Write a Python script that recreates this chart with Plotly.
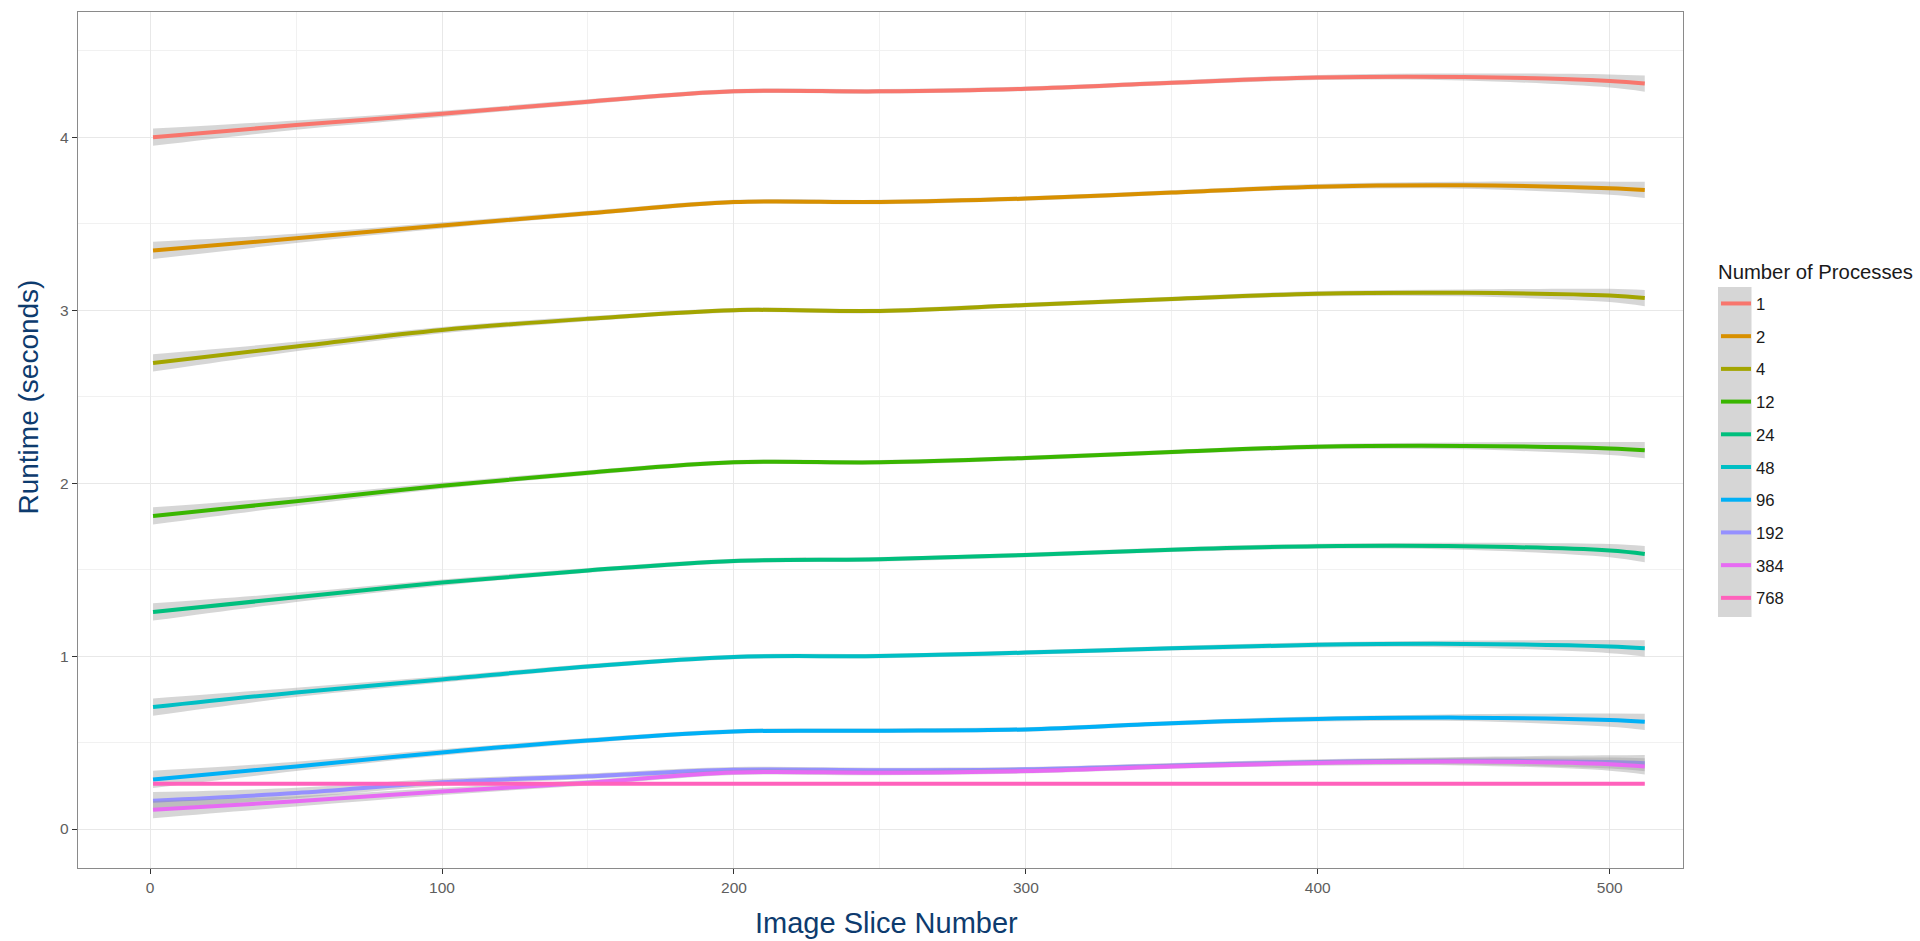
import plotly.graph_objects as go

# ---------------- data ----------------
slice_numbers = [1, 50, 100, 150, 200, 250, 300, 350, 400, 450, 500, 512]
process_counts = ["1", "2", "4", "12", "24", "48", "96", "192", "384", "768"]

runtime_p1 = [4.000, 4.070, 4.135, 4.205, 4.265, 4.265, 4.280, 4.315, 4.345, 4.348, 4.325, 4.310]
runtime_p2 = [3.345, 3.415, 3.490, 3.560, 3.625, 3.625, 3.645, 3.680, 3.714, 3.722, 3.705, 3.695]
runtime_p4 = [2.695, 2.790, 2.885, 2.950, 3.000, 2.995, 3.030, 3.065, 3.095, 3.100, 3.085, 3.070]
runtime_p12 = [1.810, 1.895, 1.985, 2.060, 2.120, 2.120, 2.145, 2.180, 2.210, 2.215, 2.200, 2.190]
runtime_p24 = [1.255, 1.340, 1.425, 1.495, 1.550, 1.560, 1.585, 1.615, 1.635, 1.635, 1.610, 1.590]
runtime_p48 = [0.705, 0.790, 0.865, 0.940, 0.995, 1.000, 1.020, 1.045, 1.065, 1.070, 1.055, 1.045]
runtime_p96 = [0.287, 0.362, 0.443, 0.512, 0.564, 0.568, 0.576, 0.612, 0.636, 0.644, 0.630, 0.620]
runtime_p192 = [0.164, 0.208, 0.270, 0.305, 0.343, 0.340, 0.345, 0.368, 0.388, 0.395, 0.388, 0.381]
runtime_p384 = [0.112, 0.160, 0.217, 0.268, 0.327, 0.325, 0.335, 0.362, 0.382, 0.390, 0.375, 0.362]
runtime_p768 = [0.262, 0.262, 0.262, 0.262, 0.262, 0.262, 0.262, 0.262, 0.262, 0.262, 0.262, 0.262]

# half-width of the smoother's confidence band
ci_main = [0.050, 0.027, 0.018, 0.014, 0.013, 0.013, 0.013, 0.013, 0.015, 0.020, 0.038, 0.047]
ci_low = [0.050, 0.030, 0.020, 0.016, 0.015, 0.014, 0.014, 0.014, 0.016, 0.022, 0.038, 0.047]
ci_flat = [0.005, 0.004, 0.004, 0.004, 0.004, 0.004, 0.004, 0.004, 0.004, 0.004, 0.004, 0.005]

series = [
    ("1", runtime_p1, ci_main, "#F8766D"),
    ("2", runtime_p2, ci_main, "#D89000"),
    ("4", runtime_p4, ci_main, "#A3A500"),
    ("12", runtime_p12, ci_main, "#39B600"),
    ("24", runtime_p24, ci_main, "#00BF7D"),
    ("48", runtime_p48, ci_main, "#00BFC4"),
    ("96", runtime_p96, ci_main, "#00B0F6"),
    ("192", runtime_p192, ci_low, "#9590FF"),
    ("384", runtime_p384, ci_low, "#E76BF3"),
    ("768", runtime_p768, ci_flat, "#FF62BC"),
]

FONT = "Liberation Sans, Arial, Helvetica, sans-serif"
NAVY = "#0d3b6e"

fig = go.Figure()
for name, vals, ci, col in series:
    upper = [v + c for v, c in zip(vals, ci)]
    lower = [v - c for v, c in zip(vals, ci)]
    fig.add_trace(go.Scatter(
        x=slice_numbers, y=lower, mode="lines",
        line=dict(width=0, shape="spline", smoothing=1.0),
        hoverinfo="skip", showlegend=False, legendgroup=name,
    ))
    fig.add_trace(go.Scatter(
        x=slice_numbers, y=upper, mode="lines",
        fill="tonexty", fillcolor="rgba(153,153,153,0.4)",
        line=dict(width=0, shape="spline", smoothing=1.0),
        hoverinfo="skip", showlegend=False, legendgroup=name,
    ))
    fig.add_trace(go.Scatter(
        x=slice_numbers, y=vals, name=name, mode="lines",
        line=dict(color=col, width=4, shape="spline", smoothing=1.0),
        legendgroup=name,
    ))

W, H = 1920, 941
# plot-area geometry in page px
PL, PR, PT, PB = 78, 1683, 11.7, 868.3
PW, PH = PR - PL, PB - PT

def px_x(px):
    return (px - PL) / PW

def px_y(py):
    return (PB - py) / PH

axis_common = dict(
    showline=True, mirror=True, linecolor="#8a8a8a", linewidth=1.4,
    ticks="outside", ticklen=5, tickwidth=1.3, tickcolor="#333333",
    tickfont=dict(family=FONT, size=15.5, color="#5e5e5e"),
    showgrid=True, gridcolor="#e8e8e8", gridwidth=1.3,
    zeroline=False,
)

fig.update_layout(
    width=W, height=H,
    margin=dict(l=PL, r=W - PR, t=PT, b=H - PB, pad=0, autoexpand=False),
    paper_bgcolor="white", plot_bgcolor="white",
    font=dict(family=FONT, color="#1a1a1a"),
    xaxis=dict(range=[-24.7, 525.1], tickvals=[0, 100, 200, 300, 400, 500],
               minor=dict(dtick=50, tick0=0, showgrid=True, gridcolor="#f1f1f1", gridwidth=1, ticks=""),
               **axis_common),
    yaxis=dict(range=[-0.2253, 4.7237], tickvals=[0, 1, 2, 3, 4],
               minor=dict(dtick=0.5, tick0=0, showgrid=True, gridcolor="#f1f1f1", gridwidth=1, ticks=""),
               **axis_common),
    legend=dict(
        font=dict(family=FONT, size=16.7, color="#1a1a1a"),
        x=px_x(1716), xanchor="left", y=px_y(286), yanchor="top",
        bgcolor="rgba(0,0,0,0)", tracegroupgap=8, itemwidth=30,
    ),
    shapes=[dict(type="rect", xref="paper", yref="paper",
                 x0=px_x(1718), x1=px_x(1751.5), y0=px_y(617), y1=px_y(287),
                 fillcolor="#d6d6d6", line=dict(width=0), layer="below")],
    annotations=[
        dict(text="Number of Processes", xref="paper", yref="paper",
             x=px_x(1716), y=px_y(271.7), showarrow=False,
             xanchor="left", yanchor="middle",
             font=dict(family=FONT, size=20.3, color="#1a1a1a")),
        dict(text="Runtime (seconds)", xref="paper", yref="paper",
             x=px_x(29), y=px_y(397.5), textangle=-90, showarrow=False,
             xanchor="center", yanchor="middle",
             font=dict(family=FONT, size=28, color=NAVY)),
        dict(text="Image Slice Number", xref="paper", yref="paper",
             x=px_x(886.7), y=px_y(923.7), showarrow=False,
             xanchor="center", yanchor="middle",
             font=dict(family=FONT, size=29, color=NAVY)),
    ],
)

# remove the browser's default 8px body margin so the figure fills the window
fig.write_html(
    "out.html",
    config={"displayModeBar": False},
    post_script="document.body.style.margin='0';document.body.style.overflow='hidden';",
)
